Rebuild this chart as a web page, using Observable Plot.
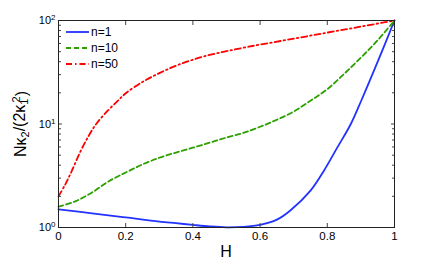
<!DOCTYPE html>
<html><head><meta charset="utf-8">
<script src="https://cdn.jsdelivr.net/npm/d3@7"></script>
<script src="https://cdn.jsdelivr.net/npm/@observablehq/plot@0.6"></script>
<style>body{margin:0;background:#fff}svg{display:block}</style>
</head><body><div id="chart"></div>
<script>
const hBlue = [0,0.1,0.2,0.3,0.35,0.4,0.45,0.5,0.55,0.6,0.65,0.69,0.75,0.79,0.83,0.87,0.9,0.95,1];
const vBlue = [1.5,1.37,1.25,1.14,1.1,1.06,1.025,1.005,1.015,1.06,1.19,1.46,2.27,3.54,5.94,10,16.5,40,100];
const hGreen = [0,0.05,0.1,0.15,0.2,0.25,0.3,0.35,0.4,0.45,0.5,0.55,0.6,0.65,0.7,0.75,0.8,0.85,0.9,0.95,1];
const vGreen = [1.59,1.79,2.18,2.8,3.4,4.07,4.72,5.3,5.9,6.6,7.4,8.2,9.4,11,13.2,16.8,21.7,30.5,43.8,64.5,100];
const hRed = [0,0.02,0.04,0.065,0.09,0.115,0.15,0.18,0.2,0.25,0.3,0.35,0.4,0.45,0.5,0.55,0.6,0.7,0.8,0.9,1];
const vRed = [2.0,2.6,3.55,5.4,7.7,10.3,13.8,17.2,19.8,25.5,31,36.6,41.8,46.5,50.5,54.5,58.5,66.7,76.4,87.3,100];
const seriesNames = ["n=1","n=10","n=50"];
const seriesColors = ["#2233ff","#2ca000","#ff0000"];
const seriesDash = [null,"5,3","6,3,1.5,3"];
const xTicks = [0,0.2,0.4,0.6,0.8,1];
const yMajor = [1,10,100];
const yMinor = [2,3,4,5,6,7,8,9,20,30,40,50,60,70,80,90];
const xLabel = "H";

const toRows = (h, v, s) => h.map((x, i) => ({H: x, v: v[i], s}));
const rows = [
  toRows(hBlue, vBlue, seriesNames[0]),
  toRows(hGreen, vGreen, seriesNames[1]),
  toRows(hRed, vRed, seriesNames[2])
];

const font = "'Liberation Sans', Arial, Helvetica, sans-serif";
const chart = Plot.plot({
  width: 436, height: 262,
  marginLeft: 58, marginRight: 42, marginTop: 20, marginBottom: 35,
  style: {fontFamily: font, fontSize: "11.5px", color: "#000", background: "#fff"},
  x: {domain: [0, 1]},
  y: {type: "log", domain: [1, 100]},
  marks: [
    ...rows.map((r, i) => Plot.line(r, {x: "H", y: "v", stroke: seriesColors[i], strokeWidth: 1.8, strokeDasharray: seriesDash[i], curve: "catmull-rom"})),
    Plot.axisX({ticks: xTicks, tickSize: 0, tickPadding: 4, label: null, tickFormat: d => String(d), fontSize: 11.5}),
    Plot.axisX({ticks: xTicks, tickSize: -4, text: null, label: null, stroke: "#444"}),
    Plot.axisX({anchor: "top", ticks: xTicks, tickSize: -4, text: null, label: null, stroke: "#444"}),
    Plot.axisY({ticks: yMajor, tickSize: 0, tickPadding: 3, label: null, tickFormat: d => "10^" + Math.round(Math.log10(d)), fontSize: 11}),
    Plot.axisY({ticks: yMajor, tickSize: -4, text: null, label: null, stroke: "#444"}),
    Plot.axisY({ticks: yMinor, tickSize: -3, text: null, label: null, stroke: "#444"}),
    Plot.axisY({anchor: "right", ticks: yMajor, tickSize: -4, text: null, label: null, stroke: "#444"}),
    Plot.axisY({anchor: "right", ticks: yMinor, tickSize: -3, text: null, label: null, stroke: "#444"}),
    Plot.frame({stroke: "#222", strokeWidth: 1})
  ]
});
document.getElementById("chart").appendChild(chart);

const svg = d3.select(chart);
// superscript exponents on y tick labels
svg.selectAll("text").each(function() {
  const t = d3.select(this);
  const s = t.text();
  const m = /^10\^(\d)$/.exec(s);
  if (m) {
    t.text("10");
    t.append("tspan").attr("dy", "-0.45em").attr("font-size", "8px").text(m[1]);
  }
});

// axis labels
svg.append("text")
  .attr("x", 226).attr("y", 257)
  .attr("text-anchor", "middle")
  .attr("font-family", font).attr("font-size", 16)
  .text(xLabel);

const yl = svg.append("text")
  .attr("transform", "translate(26,124) rotate(-90)")
  .attr("text-anchor", "middle")
  .attr("font-family", font).attr("font-size", 16);
yl.append("tspan").text("Nκ");
yl.append("tspan").attr("dy", "0.3em").attr("font-size", 11).text("2");
yl.append("tspan").attr("dy", "-0.3em").text("/(2κ");
yl.append("tspan").attr("dy", "0.3em").attr("font-size", 11).text("1");
yl.append("tspan").attr("dy", "-0.75em").attr("dx", "-0.35em").attr("font-size", 11).text("2");
yl.append("tspan").attr("dy", "0.45em").text(")");

// legend
const lg = svg.append("g").attr("font-family", font).attr("font-size", 12).attr("text-anchor", "start");
seriesNames.forEach((name, i) => {
  const y = 32 + i * 16;
  lg.append("line").attr("x1", 66).attr("x2", 89).attr("y1", y).attr("y2", y)
    .attr("stroke", seriesColors[i]).attr("stroke-width", 1.8)
    .attr("stroke-dasharray", seriesDash[i]);
  lg.append("text").attr("x", 91).attr("y", y).attr("dy", "0.35em").attr("text-anchor", "start").text(name);
});
</script>
</body></html>
